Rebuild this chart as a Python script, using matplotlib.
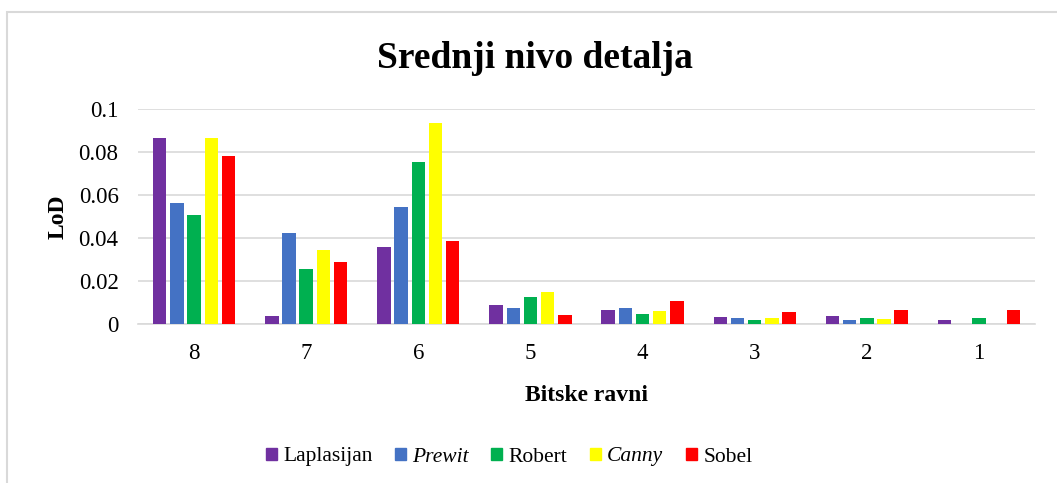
import matplotlib
matplotlib.use("Agg")
import matplotlib.pyplot as plt
from matplotlib.patches import Rectangle
import numpy as np

plt.rcParams['font.family'] = ['Liberation Serif', 'DejaVu Serif']

categories = ['8', '7', '6', '5', '4', '3', '2', '1']
series_names = ['Laplasijan', 'Prewit', 'Robert', 'Canny', 'Sobel']
laplasijan = [0.0864, 0.0040, 0.0359, 0.0089, 0.0067, 0.0034, 0.0040, 0.0019]
prewit     = [0.0565, 0.0423, 0.0545, 0.0077, 0.0075, 0.0030, 0.0020, 0.0000]
robert     = [0.0506, 0.0257, 0.0754, 0.0128, 0.0047, 0.0022, 0.0027, 0.0028]
canny      = [0.0865, 0.0345, 0.0935, 0.0149, 0.0060, 0.0027, 0.0023, 0.0003]
sobel      = [0.0780, 0.0290, 0.0385, 0.0041, 0.0110, 0.0055, 0.0067, 0.0067]
colors = ['#7030A0', '#4472C4', '#00B050', '#FFFF00', '#FF0000']
italic = [False, True, False, True, False]

data = [laplasijan, prewit, robert, canny, sobel]

W, H = 1057, 483
fig = plt.figure(figsize=(W/100, H/100), dpi=100)
# outer chart border (clipped at right/bottom like the reference)
fig.patches.append(Rectangle((7/W, -0.05), 1.2, 1 - 12.5/H + 0.05, transform=fig.transFigure,
                             fill=False, edgecolor='#d9d9d9', linewidth=1.5))

left, right = 138, 1035
top, bottom = 109, 324.3
ax = fig.add_axes([left/W, 1 - bottom/H, (right-left)/W, (bottom-top)/H])

x = np.arange(len(categories))
pitch = 0.1534
bw = 0.12
for i, (vals, c) in enumerate(zip(data, colors)):
    ax.bar(x + (i - 2) * pitch, vals, width=bw, color=c, edgecolor='none', zorder=3)

ax.set_xlim(-0.5, len(categories) - 0.5)
ax.set_ylim(0, 0.1)
ax.set_yticks([0, 0.02, 0.04, 0.06, 0.08, 0.1])
ax.set_yticklabels(['0', '0.02', '0.04', '0.06', '0.08', '0.1'])
ax.set_xticks(x)
ax.set_xticklabels(categories)
ax.grid(axis='y', color='#d9d9d9', linewidth=1.2, zorder=0)
for s in ['top', 'right', 'left']:
    ax.spines[s].set_visible(False)
ax.spines['bottom'].set_color('#d9d9d9')
ax.spines['bottom'].set_linewidth(1.2)
ax.tick_params(axis='both', length=0, labelsize=16.5)
ax.tick_params(axis='x', pad=13.5)
ax.tick_params(axis='y', pad=14)

ax.set_ylabel('LoD', fontsize=17, fontweight='bold', labelpad=7)
ax.set_xlabel('Bitske ravni', fontsize=17, fontweight='bold', labelpad=15)

fig.text(535/W, 1 - 58/H, 'Srednji nivo detalja', ha='center', va='center',
         fontsize=27, fontweight='bold')

# legend
handles = [Rectangle((0, 0), 1, 1, color=c) for c in colors]
leg = fig.legend(handles, series_names, loc='center', bbox_to_anchor=(509/W, 1 - 457/H),
                 ncol=5, frameon=False, fontsize=15.5, handlelength=0.5, handleheight=0.5,
                 handletextpad=0.3, columnspacing=1.05)
for t, it in zip(leg.get_texts(), italic):
    if it:
        t.set_fontstyle('italic')

fig.savefig('out.png', dpi=100)
